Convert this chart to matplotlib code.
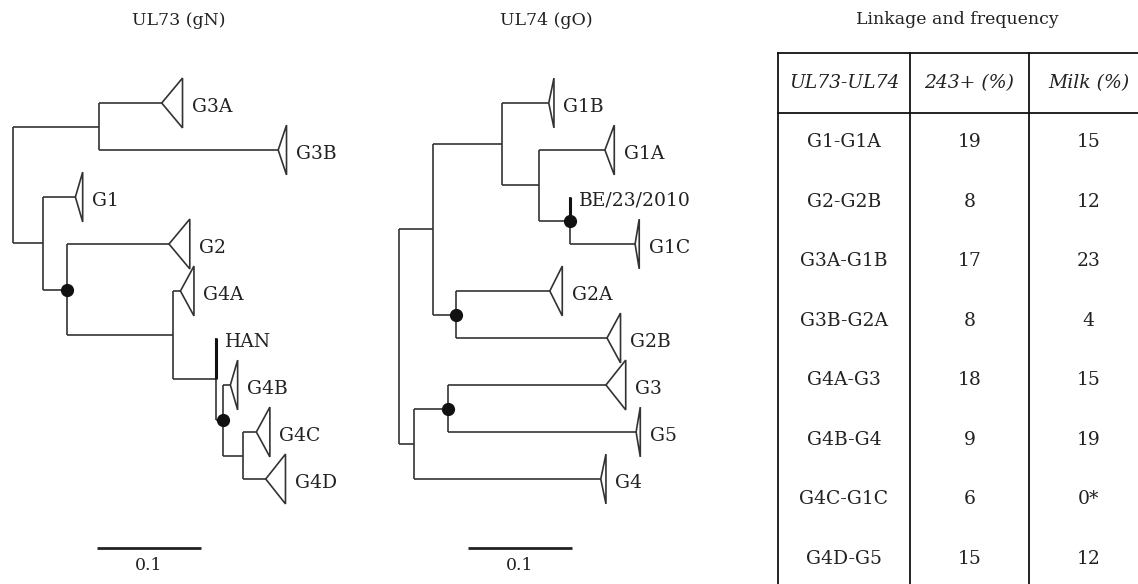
import numpy as np
import matplotlib.pyplot as plt
from matplotlib.patches import Polygon

plt.rcParams['font.family'] = ['DejaVu Serif']

# --- UL73 (gN) tree ---------------------------------------------------------
# nodes listed depth first; parent, branch length (subst./site),
# depth of collapsed clade triangle (None = internal node)
ul73_nodes = ['r', 'a', 'G3A', 'G3B', 'b', 'G1', 'c', 'G2', 'd', 'G4A',
              'e', 'HAN', 'f', 'G4B', 'g', 'G4C', 'G4D']
ul73_parent = [None, 'r', 'a', 'a', 'r', 'b', 'b', 'c', 'c', 'd',
               'd', 'e', 'e', 'f', 'f', 'g', 'g']
ul73_length = [0, 0.083, 0.060, 0.172, 0.029, 0.031, 0.023, 0.098, 0.102,
               0.007, 0.041, 0.0, 0.007, 0.007, 0.019, 0.013, 0.022]
ul73_clade = [None, None, 0.020, 0.008, None, 0.007, None, 0.020, None,
              0.013, None, 0.0, None, 0.007, None, 0.013, 0.019]
ul73_support = ['c', 'f']

# --- UL74 (gO) tree ---------------------------------------------------------
ul74_nodes = ['r', 'h', 'i', 'G1B', 'j', 'G1A', 'k', 'BE/23/2010', 'G1C',
              'l', 'G2A', 'G2B', 'm', 'n', 'G3', 'G5', 'G4']
ul74_parent = [None, 'r', 'h', 'i', 'i', 'j', 'j', 'k', 'k',
               'h', 'l', 'l', 'r', 'm', 'n', 'n', 'm']
ul74_length = [0, 0.033, 0.066, 0.045, 0.036, 0.063, 0.029, 0.0, 0.063,
               0.022, 0.090, 0.145, 0.014, 0.033, 0.152, 0.181, 0.180]
ul74_clade = [None, None, None, 0.005, None, 0.009, None, 0.0, 0.004,
              None, 0.012, 0.013, None, None, 0.019, 0.004, 0.005]
ul74_support = ['k', 'l', 'n']

# --- linkage table ----------------------------------------------------------
table_header = ['UL73-UL74', '243+ (%)', 'Milk (%)']
linkage = ['G1-G1A', 'G2-G2B', 'G3A-G1B', 'G3B-G2A', 'G4A-G3', 'G4B-G4',
           'G4C-G1C', 'G4D-G5']
freq_243 = [19, 8, 17, 8, 18, 9, 6, 15]
freq_milk = [15, 12, 23, 4, 15, 19, 0, 12]
milk_flag = [False, False, False, False, False, False, True, False]

LINE = '#333333'
TXT = '#222222'
FS = 13.5
FS_TITLE = 12.5
W, H = 1138, 584
PX_UNIT = 1040.0   # pixels per substitution/site
PX_LEAF = 47.0     # pixels between leaves
HALF = 0.53        # triangle half height (leaf units)


def layout(nodes, parents, lengths):
    x, y = {}, {}
    children = {n: [] for n in nodes}
    for n, p, l in zip(nodes, parents, lengths):
        x[n] = 0.0 if p is None else x[p] + l
        if p is not None:
            children[p].append(n)
    k = 0
    for n in nodes:
        if not children[n]:
            y[n] = float(k)
            k += 1
    for n in reversed(nodes):
        if children[n]:
            y[n] = 0.5 * (y[children[n][0]] + y[children[n][-1]])
    return x, y, children


def draw_tree(ax, nodes, parents, lengths, clade, support):
    x, y, children = layout(nodes, parents, lengths)
    for n, p, l, d in zip(nodes, parents, lengths, clade):
        if p is not None and l > 0:
            ax.plot([x[p], x[n]], [y[n], y[n]], color=LINE, lw=1.2,
                    solid_capstyle='butt')
        if children[n]:
            ys = [y[c] for c in children[n]]
            ax.plot([x[n], x[n]], [min(ys), max(ys)], color=LINE, lw=1.2,
                    solid_capstyle='butt')
        elif d is not None:
            if d > 0:
                tri = Polygon([[x[n], y[n]], [x[n] + d, y[n] - HALF],
                               [x[n] + d, y[n] + HALF]], closed=True,
                              fill=False, edgecolor=LINE, lw=1.2)
                ax.add_patch(tri)
            else:
                # zero length strain drawn as a thick tick
                ax.plot([x[p], x[p]], [y[n], y[p]], color='#111111', lw=2.2,
                        solid_capstyle='butt')
            ax.text(x[n] + d + 0.009, y[n] + 0.08, n, fontsize=FS,
                    va='center', ha='left', color=TXT)
    for s in support:
        ax.plot(x[s], y[s], 'o', color='#111111', ms=8.5, zorder=5)
    return x, y


def tree_panel(rect, root_px, nodes, parents, lengths, clade, support,
               title, title_px, bar_px):
    ax = fig.add_axes([rect[0] / W, 0, rect[1] / W, 1])
    ax.set_xlim((rect[0] - root_px) / PX_UNIT,
                (rect[0] + rect[1] - root_px) / PX_UNIT)
    ax.set_ylim((H - 103) / PX_LEAF, -103 / PX_LEAF)
    draw_tree(ax, nodes, parents, lengths, clade, support)
    ax.text((title_px - root_px) / PX_UNIT, (20 - 103) / PX_LEAF, title,
            fontsize=FS_TITLE, ha='center', va='center', color=TXT)
    sb = (bar_px - root_px) / PX_UNIT
    ax.plot([sb, sb + 0.1], [(548 - 103) / PX_LEAF] * 2, color=TXT, lw=2,
            solid_capstyle='butt')
    ax.text(sb + 0.05, (566 - 103) / PX_LEAF, '0.1', fontsize=FS_TITLE,
            ha='center', va='center', color=TXT)
    ax.axis('off')
    return ax


fig = plt.figure(figsize=(W / 100.0, H / 100.0), dpi=100)

ax1 = tree_panel((0, 370), 13.0, ul73_nodes, ul73_parent, ul73_length,
                 ul73_clade, ul73_support, 'UL73 (gN)', 179, 97)
ax2 = tree_panel((370, 360), 399.0, ul74_nodes, ul74_parent, ul74_length,
                 ul74_clade, ul74_support, 'UL74 (gO)', 546, 468)

# table
ax3 = fig.add_axes([730.0 / W, 0, 408.0 / W, 1])
row_h = 59.5
top = 53.0
ax3.set_xlim(730, 1138)
ax3.set_ylim((H - top) / row_h, -top / row_h)
col_w = [132, 119, 119]
edges = 778 + np.concatenate([[0], np.cumsum(col_w)])
centers = 0.5 * (edges[:-1] + edges[1:])
nrows = len(linkage)
ax3.plot([edges[0], 1138], [0, 0], color='#111111', lw=1.3)
ax3.plot([edges[0], 1138], [1, 1], color='#111111', lw=1.3)
for e in edges[:-1]:
    ax3.plot([e, e], [0, (H - top) / row_h], color='#111111', lw=1.3)
for c, t in zip(centers, table_header):
    ax3.text(c, 0.5, t, fontsize=FS, style='italic', ha='center', va='center',
             color=TXT)
for i in range(nrows):
    yy = 1.5 + i
    milk = str(freq_milk[i]) + ('*' if milk_flag[i] else '')
    for c, t in zip(centers, [linkage[i], str(freq_243[i]), milk]):
        ax3.text(c, yy, t, fontsize=FS, ha='center', va='center', color=TXT)
ax3.text(957, (20 - top) / row_h, 'Linkage and frequency', fontsize=FS_TITLE,
         ha='center', va='center', color=TXT)
ax3.axis('off')

fig.savefig('out.png', dpi=100)
